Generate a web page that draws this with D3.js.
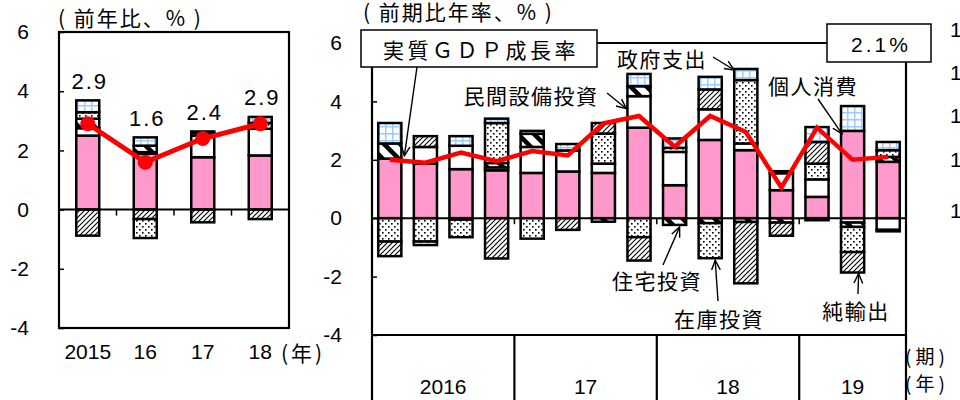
<!DOCTYPE html>
<html lang="ja">
<head>
<meta charset="utf-8">
<title>実質GDP成長率と寄与度</title>
<script src="https://cdnjs.cloudflare.com/ajax/libs/d3/7.8.5/d3.min.js"></script>
<style>
  body { margin: 0; background: #fff; }
  svg { display: block; }
  text { font-family: "Liberation Sans", Arial, sans-serif; fill: #000; }
  .jp { font-family: "Noto Sans CJK JP", sans-serif; }
</style>
</head>
<body>
<div id="vis"></div>
<script>
// ---- data: annual (left panel) ----
var years = ['2015', '16', '17', '18'];
var yearGdp   = [2.9, 1.6, 2.4, 2.9];
var yearPce   = [2.50, 1.89, 1.77, 1.83];
var yearEquip = [0.25, 0.05, 0.73, 0.90];
var yearHouse = [0.32, 0.22, 0.09, 0.00];
var yearInv   = [0.22, -0.64, 0.00, 0.20];
var yearNetx  = [-0.88, -0.32, -0.43, -0.32];
var yearGov   = [0.40, 0.28, 0.05, 0.20];

// ---- data: quarterly, annualised (right panel) ----
var quarters = ['2016Q1', '2016Q2', '2016Q3', '2016Q4',
                '2017Q1', '2017Q2', '2017Q3', '2017Q4',
                '2018Q1', '2018Q2', '2018Q3', '2018Q4',
                '2019Q1', '2019Q2', '2019Q3'];
var quarterYearLabels = ['2016', '17', '18', '19'];
var qGdp   = [2.0, 1.9, 2.25, 1.95, 2.3, 2.15, 3.25, 3.5, 2.45, 3.5, 2.95, 1.05, 3.1, 2.0, 2.1];
var qPce   = [2.04, 1.87, 1.68, 1.64, 1.55, 1.60, 1.55, 3.10, 1.13, 2.68, 2.33, 0.96, 0.73, 2.99, 1.93];
var qEquip = [0.00, 0.57, 0.80, 0.10, 0.89, 0.72, 0.32, 1.08, 1.14, 1.05, 0.23, 0.58, 0.60, -0.15, -0.40];
var qHouse = [0.52, 0.00, -0.05, 0.15, 0.45, 0.00, -0.12, 0.34, -0.23, -0.17, -0.13, -0.15, -0.07, -0.15, 0.17];
var qInv   = [-0.80, -0.80, -0.60, 1.37, -0.70, 0.00, 1.03, -0.65, 0.14, -1.20, 2.17, 0.07, 0.54, -0.86, 0.23];
var qNetx  = [-0.50, 0.37, 0.00, -1.38, 0.00, -0.40, 0.36, -0.80, 0.00, 0.68, -2.10, -0.45, 0.74, -0.70, -0.05];
var qGov   = [0.70, -0.12, 0.33, 0.15, 0.10, 0.22, 0.00, 0.42, 0.32, 0.43, 0.38, 0.00, 0.51, 0.85, 0.28];

var yTicks = [-4, -2, 0, 2, 4, 6];
var lastValueLabel = '2.1%';
var stubLabels = ['1', '1', '1', '1', '1'];

var width = 960;
var height = 400;

var svg = d3.select('#vis')
    .append('svg')
    .attr('width', width)
    .attr('height', height);

// ---- patterns ----
var defs = svg.append('defs');

var dots = defs.append('pattern').attr('id', 'dots')
    .attr('patternUnits', 'userSpaceOnUse').attr('width', 6).attr('height', 6);
dots.append('rect').attr('width', 6).attr('height', 6).attr('fill', '#fff');
dots.append('rect').attr('x', 1).attr('y', 1).attr('width', 1.6).attr('height', 1.6).attr('fill', '#000');
dots.append('rect').attr('x', 4).attr('y', 4).attr('width', 1.6).attr('height', 1.6).attr('fill', '#000');

var hatch = defs.append('pattern').attr('id', 'hatch')
    .attr('patternUnits', 'userSpaceOnUse').attr('width', 5).attr('height', 5);
hatch.append('rect').attr('width', 5).attr('height', 5).attr('fill', '#fff');
hatch.append('path').attr('d', 'M0,5L5,0M-1,1L1,-1M4,6L6,4')
    .attr('stroke', '#000').attr('stroke-width', 1.1);

var thick = defs.append('pattern').attr('id', 'thick')
    .attr('patternUnits', 'userSpaceOnUse').attr('width', 16).attr('height', 16);
thick.append('rect').attr('width', 16).attr('height', 16).attr('fill', '#fff');
thick.append('path').attr('d', 'M-2,-2L18,18M-2,14L2,18M14,-2L18,2')
    .attr('stroke', '#000').attr('stroke-width', 4.5);

var grid = defs.append('pattern').attr('id', 'grid')
    .attr('patternUnits', 'userSpaceOnUse').attr('width', 7).attr('height', 7);
grid.append('rect').attr('width', 7).attr('height', 7).attr('fill', '#fff');
grid.append('path').attr('d', 'M0,0.75H7M0.75,0V7')
    .attr('stroke', '#99ccff').attr('stroke-width', 1.5);

var marker = defs.append('marker').attr('id', 'arrow')
    .attr('viewBox', '0 -5 10 10').attr('refX', 9).attr('refY', 0)
    .attr('markerUnits', 'userSpaceOnUse')
    .attr('markerWidth', 11).attr('markerHeight', 11)
    .attr('orient', 'auto');
marker.append('path').attr('d', 'M0,-4L9,0L0,4')
    .attr('fill', 'none').attr('stroke', '#000').attr('stroke-width', 1.3);

var fills = {
    pce: '#ff99cc',
    equip: '#ffffff',
    house: 'url(#thick)',
    inv: 'url(#dots)',
    netx: 'url(#hatch)',
    gov: 'url(#grid)'
};

function drawBars(g, rows, keys, x, y) {
    var layers = d3.stack().keys(keys).offset(d3.stackOffsetDiverging)(rows);
    g.selectAll('.layer')
        .data(layers)
        .enter()
        .append('g')
        .attr('class', 'layer')
        .attr('fill', function(d) { return fills[d.key]; })
        .selectAll('rect')
        .data(function(d) { return d.filter(function(s) { return s[1] !== s[0]; }); })
        .enter()
        .append('rect')
        .attr('x', function(s) { return x(s.data.label); })
        .attr('width', x.bandwidth())
        .attr('y', function(s) { return y(Math.max(s[0], s[1])); })
        .attr('height', function(s) { return Math.abs(y(s[0]) - y(s[1])); })
        .attr('stroke', '#000')
        .attr('stroke-width', 2.5);
    return layers;
}

function styleAxis(g) {
    g.select('.domain').remove();
    g.selectAll('.tick line').attr('stroke', '#000').attr('stroke-width', 1.5);
    g.selectAll('.tick text').style('font-size', '21px').attr('fill', '#000');
}

function arrow(x1, y1, x2, y2) {
    svg.append('line')
        .attr('x1', x1).attr('y1', y1).attr('x2', x2).attr('y2', y2)
        .attr('stroke', '#000').attr('stroke-width', 1.4)
        .attr('marker-end', 'url(#arrow)');
}

function jpText(str, x, y, size, spacing, anchor) {
    return svg.append('text')
        .attr('class', 'jp')
        .attr('x', x).attr('y', y)
        .attr('dominant-baseline', 'central')
        .attr('text-anchor', anchor || 'middle')
        .style('font-size', size + 'px')
        .style('letter-spacing', spacing + 'px')
        .text(str);
}

// ================= left panel =================
var left = { x0: 59, x1: 289, y0: 32, y1: 328 };

var xL = d3.scaleBand().domain(years).range([left.x0, left.x1])
    .paddingInner(0.6).paddingOuter(0.3);
var yL = d3.scaleLinear().domain([-4, 6]).range([left.y1, left.y0]);

var leftRows = years.map(function(d, i) {
    return { label: d, pce: yearPce[i], equip: yearEquip[i], house: yearHouse[i],
             netx: yearNetx[i], inv: yearInv[i], gov: yearGov[i] };
});

var gL = svg.append('g');
var leftLayers = drawBars(gL, leftRows, ['pce', 'equip', 'house', 'netx', 'inv', 'gov'], xL, yL);

gL.append('rect')
    .attr('x', left.x0).attr('y', left.y0)
    .attr('width', left.x1 - left.x0).attr('height', left.y1 - left.y0)
    .attr('fill', 'none').attr('stroke', '#000').attr('stroke-width', 2.2);

gL.append('line')
    .attr('x1', left.x0).attr('x2', left.x1)
    .attr('y1', yL(0)).attr('y2', yL(0))
    .attr('stroke', '#000').attr('stroke-width', 2);

// year boundary ticks on zero line
years.slice(1).forEach(function(d) {
    var bx = xL(d) - xL.step() * xL.paddingInner() / 2;
    gL.append('line').attr('x1', bx).attr('x2', bx)
        .attr('y1', yL(0)).attr('y2', yL(0) + 6)
        .attr('stroke', '#000').attr('stroke-width', 1.5);
});

gL.append('g')
    .attr('transform', 'translate(' + left.x0 + ',0)')
    .call(d3.axisLeft(yL).tickValues(yTicks).tickSize(-5).tickPadding(30)
        .tickFormat(function(d) { return String(d); }))
    .call(styleAxis);

gL.append('g')
    .attr('transform', 'translate(0,' + left.y1 + ')')
    .call(d3.axisBottom(xL).tickSize(0).tickPadding(16))
    .call(styleAxis);

svg.append('text').attr('class', 'jp')
    .attr('x', 281).attr('y', 352)
    .attr('dominant-baseline', 'central')
    .style('font-size', '21px').style('letter-spacing', '3px')
    .text('(年)');

// GDP line + dots
var lineL = d3.line()
    .x(function(d, i) { return xL(years[i]) + xL.bandwidth() / 2; })
    .y(function(d) { return yL(d); });

gL.append('path')
    .datum(yearGdp)
    .attr('d', lineL)
    .attr('fill', 'none')
    .attr('stroke', '#ff0000')
    .attr('stroke-width', 5)
    .attr('stroke-linejoin', 'round');

gL.selectAll('.dot')
    .data(yearGdp)
    .enter()
    .append('circle')
    .attr('class', 'dot')
    .attr('cx', function(d, i) { return xL(years[i]) + xL.bandwidth() / 2; })
    .attr('cy', function(d) { return yL(d); })
    .attr('r', 7.5)
    .attr('fill', '#ff0000');

// value labels above each bar
var leftTops = leftRows.map(function(r, i) {
    return d3.max(leftLayers, function(l) { return l[i][1]; });
});
gL.selectAll('.val')
    .data(yearGdp)
    .enter()
    .append('text')
    .attr('class', 'val')
    .attr('x', function(d, i) { return xL(years[i]) + xL.bandwidth() / 2 + 2; })
    .attr('y', function(d, i) { return yL(leftTops[i]) - 19; })
    .attr('text-anchor', 'middle')
    .attr('dominant-baseline', 'central')
    .style('font-size', '22px')
    .style('letter-spacing', '2px')
    .text(function(d) { return d.toFixed(1); });

jpText('( 前年比、% )', 58, 17, 21, 2, 'start');

// ================= right panel =================
var right = { x0: 372, x1: 906, y0: 43, y1: 335 };

var xR = d3.scaleBand().domain(quarters).range([right.x0, right.x1])
    .paddingInner(0.35).paddingOuter(0.175);
var yR = d3.scaleLinear().domain([-4, 6]).range([right.y1, right.y0]);

var rightRows = quarters.map(function(d, i) {
    return { label: d, pce: qPce[i], equip: qEquip[i], house: qHouse[i],
             inv: qInv[i], netx: qNetx[i], gov: qGov[i] };
});

var gR = svg.append('g');
var rightLayers = drawBars(gR, rightRows, ['pce', 'equip', 'house', 'inv', 'netx', 'gov'], xR, yR);

// frame (extends into the period table below)
gR.append('path')
    .attr('d', 'M' + right.x0 + ',' + height + 'V' + right.y0 + 'H' + right.x1 + 'V' + height +
               'M' + right.x0 + ',' + right.y1 + 'H' + right.x1)
    .attr('fill', 'none').attr('stroke', '#000').attr('stroke-width', 2.2);

gR.append('line')
    .attr('x1', right.x0).attr('x2', right.x1)
    .attr('y1', yR(0)).attr('y2', yR(0))
    .attr('stroke', '#000').attr('stroke-width', 2);

// year groups in the table under the plot
var half = xR.step() * xR.paddingInner() / 2;
var yearGroups = quarterYearLabels.map(function(lab) {
    var qs = quarters.filter(function(q) { return q.slice(2, 4) === lab.slice(-2); });
    var a = xR(qs[0]) - half;
    var b = xR(qs[qs.length - 1]) + xR.bandwidth() + half;
    return { label: lab, a: a, b: b };
});

yearGroups.slice(1).forEach(function(g) {
    gR.append('line').attr('x1', g.a).attr('x2', g.a)
        .attr('y1', right.y1).attr('y2', height)
        .attr('stroke', '#000').attr('stroke-width', 2.2);
    gR.append('line').attr('x1', g.a).attr('x2', g.a)
        .attr('y1', yR(0)).attr('y2', yR(0) + 6)
        .attr('stroke', '#000').attr('stroke-width', 1.5);
});

gR.selectAll('.yr')
    .data(yearGroups)
    .enter()
    .append('text')
    .attr('class', 'yr')
    .attr('x', function(g) { return (g.a + g.b) / 2; })
    .attr('y', 386)
    .attr('text-anchor', 'middle')
    .attr('dominant-baseline', 'central')
    .style('font-size', '21px')
    .text(function(g) { return g.label; });

gR.append('g')
    .attr('transform', 'translate(' + right.x0 + ',0)')
    .call(d3.axisLeft(yR).tickValues(yTicks).tickSize(-5).tickPadding(30)
        .tickFormat(function(d) { return String(d); }))
    .call(styleAxis);

// GDP line
var lineR = d3.line()
    .x(function(d, i) { return xR(quarters[i]) + xR.bandwidth() / 2; })
    .y(function(d) { return yR(d); });

gR.append('path')
    .datum(qGdp)
    .attr('d', lineR)
    .attr('fill', 'none')
    .attr('stroke', '#ff0000')
    .attr('stroke-width', 4.5)
    .attr('stroke-linejoin', 'miter');

// legend boxes
svg.append('rect')
    .attr('x', 361).attr('y', 30).attr('width', 236).attr('height', 37)
    .attr('fill', '#fff').attr('stroke', '#000').attr('stroke-width', 1.5);
jpText('実質ＧＤＰ成長率', 481, 49, 21, 3.5);

svg.append('rect')
    .attr('x', 827).attr('y', 24).attr('width', 104).attr('height', 38)
    .attr('fill', '#fff').attr('stroke', '#000').attr('stroke-width', 1.5);
svg.append('text')
    .attr('x', 881).attr('y', 44)
    .attr('text-anchor', 'middle')
    .attr('dominant-baseline', 'central')
    .style('font-size', '21px')
    .style('letter-spacing', '3px')
    .text(lastValueLabel);

jpText('( 前期比年率、% )', 363, 11, 21, 2, 'start');
jpText('(期)', 905, 355, 19, 4, 'start');
jpText('(年)', 905, 382, 19, 4, 'start');

// annotations
var bw = xR.bandwidth();
function qx(q) { return xR(q); }
function qi(q) { return quarters.indexOf(q); }
function topOf(i) { return d3.max(rightLayers, function(l) { return l[i][1]; }); }
function bottomOf(i) { return d3.min(rightLayers, function(l) { return l[i][0]; }); }

arrow(417, 67, qx('2016Q1') + bw + 3, yR(qGdp[0]) - 4);

jpText('民間設備投資', 531, 95, 21, 1.5);
arrow(607, 93, qx('2017Q4') - 1, yR(qPce[qi('2017Q4')] + qEquip[qi('2017Q4')] * 0.6));

jpText('政府支出', 662, 58, 21, 1.5);
arrow(713, 57, qx('2018Q3'), yR(topOf(qi('2018Q3'))) + 1);

jpText('個人消費', 813, 85, 21, 1.5);
arrow(818, 99, qx('2019Q2') + 1, yR(qPce[qi('2019Q2')]) + 3);

jpText('住宅投資', 657, 280, 21, 1.5);
arrow(663, 265, qx('2018Q1') + bw / 2 + 5, yR(qHouse[qi('2018Q1')]) + 2);

jpText('在庫投資', 719, 318, 21, 1.5);
arrow(718, 301, qx('2018Q2') + bw / 2 + 5, yR(bottomOf(qi('2018Q2'))) + 2);

jpText('純輸出', 856, 310, 21, 1.5);
arrow(858, 294, qx('2019Q2') + bw / 2 + 6, yR(bottomOf(qi('2019Q2'))) + 1);

// clipped tick labels of the neighbouring chart at the right edge
var stubY = [29, 72, 115, 159, 210];
svg.selectAll('.stub')
    .data(stubLabels)
    .enter()
    .append('text')
    .attr('class', 'stub')
    .attr('x', 950)
    .attr('y', function(d, i) { return stubY[i]; })
    .attr('dominant-baseline', 'central')
    .style('font-size', '21px')
    .text(function(d) { return d; });
</script>
</body>
</html>
